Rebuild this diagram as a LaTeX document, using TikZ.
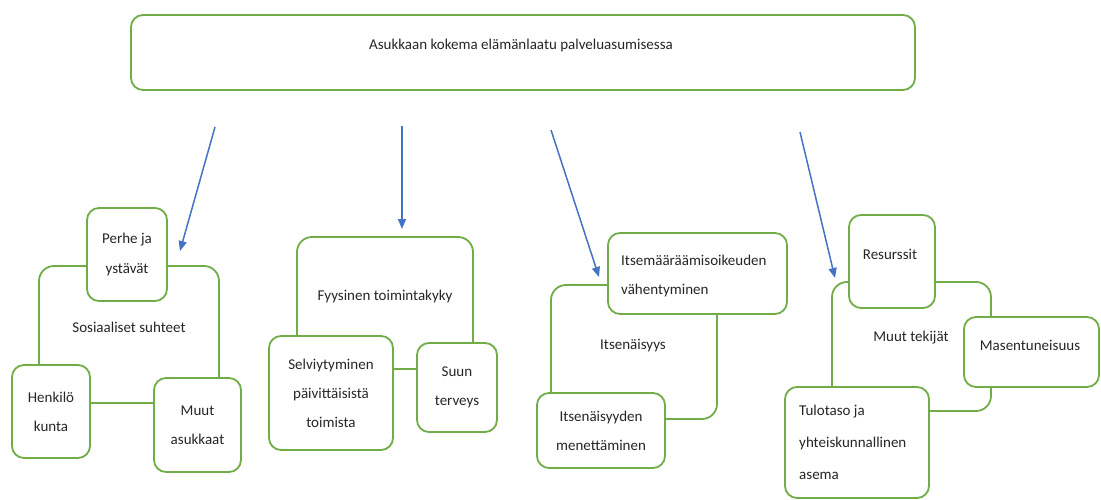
\documentclass[tikz,border=0pt]{standalone}
\usepackage{fontspec}
\setmainfont{Carlito}
\usetikzlibrary{arrows.meta}
\definecolor{grn}{HTML}{70AD47}
\definecolor{blu}{HTML}{4472C4}
\definecolor{txt}{HTML}{262626}
\tikzset{
  box/.style={draw=grn, line width=1.8pt, rounded corners=12pt, fill=white, inner sep=0pt,
    text=txt, align=center, font=\fontsize{15}{29}\selectfont},
  lbl/.style={text=txt, inner sep=0pt, font=\fontsize{15}{29}\selectfont},
  arr/.style={draw=blu, line width=1.5pt, -{Triangle[length=10pt,width=8pt]}}
}
\begin{document}
\begin{tikzpicture}[x=1pt,y=-1pt]
\useasboundingbox (0,0) rectangle (1101,500);
% top
\node[box, minimum width=784pt, minimum height=75pt] (top) at (523,52.5) {};
\node[lbl, font=\fontsize{15}{17}\selectfont] (toptxt) at (521,46) {Asukkaan kokema elämänlaatu palveluasumisessa};
% arrows
\coordinate (s1) at (215,127); \coordinate (e1) at (180,251);
\coordinate (s2) at (402,126); \coordinate (e2) at (402,229);
\coordinate (s3) at (551,130); \coordinate (e3) at (599,277);
\coordinate (s4) at (800,132); \coordinate (e4) at (835,278);
\draw[arr] (s1) -- (e1);
\draw[arr] (s2) -- (e2);
\draw[arr] (s3) -- (e3);
\draw[arr] (s4) -- (e4);
% group 1
\node[box, minimum width=180pt, minimum height=137pt, rounded corners=15pt] (big1) at (129,334.5) {};
\node[lbl] (t1) at (129,327) {Sosiaaliset suhteet};
\node[box, minimum width=80pt, minimum height=93pt] (perhe) at (127,254.5) {Perhe ja\\ystävät};
\node[box, minimum width=78pt, minimum height=93pt] (henk) at (51,411.5) {Henkilö\\kunta};
\node[box, minimum width=87pt, minimum height=94pt] (muut) at (197.5,425) {Muut\\asukkaat};
% group 2
\node[box, minimum width=176pt, minimum height=132pt, rounded corners=15pt] (big2) at (385,303) {};
\node[lbl] (t2) at (385,297) {Fyysinen toimintakyky};
\node[box, minimum width=124pt, minimum height=114pt] (selv) at (331,393) {Selviytyminen\\päivittäisistä\\toimista};
\node[box, minimum width=80pt, minimum height=89pt] (suun) at (457,387.5) {Suun\\terveys};
% group 3
\node[box, minimum width=166pt, minimum height=134pt, rounded corners=15pt] (big3) at (634,352) {};
\node[lbl] (t3) at (633,346) {Itsenäisyys};
\node[box, minimum width=179pt, minimum height=81pt] (itsem) at (697.5,273.5) {};
\node[lbl, align=left, anchor=west] (itsemtxt) at (621,276) {Itsemääräämisoikeuden\\vähentyminen};
\node[box, minimum width=128pt, minimum height=75pt] (itsmen) at (601,430.5) {Itsenäisyyden\\menettäminen};
% group 4
\node[box, minimum width=159pt, minimum height=129pt, rounded corners=15pt] (big4) at (911.5,346.5) {};
\node[lbl] (t4) at (911,338) {Muut tekijät};
\node[box, minimum width=86pt, minimum height=93pt] (res) at (892,261.5) {};
\node[lbl] (restxt) at (890,254) {Resurssit};
\node[box, minimum width=135pt, minimum height=70pt] (mas) at (1031.5,352) {};
\node[lbl] (mastxt) at (1030,345) {Masentuneisuus};
\node[box, minimum width=144pt, minimum height=111pt] (tulo) at (857,442.5) {};
\node[lbl, align=left, anchor=west, font=\fontsize{15}{32}\selectfont] (tulotxt) at (799,442) {Tulotaso ja\\yhteiskunnallinen\\asema};
\end{tikzpicture}
\end{document}
